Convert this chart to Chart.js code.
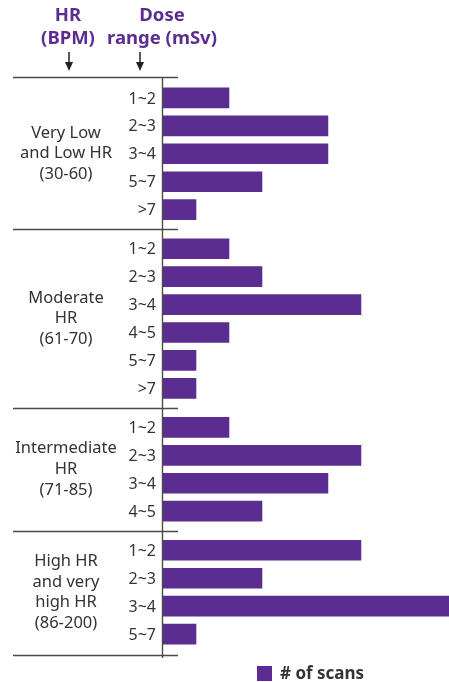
<!DOCTYPE html>
<html>
<head>
<meta charset="utf-8">
<script src="https://cdn.jsdelivr.net/npm/chart.js@4.4.1/dist/chart.umd.min.js"></script>
<style>
  html, body { margin: 0; padding: 0; background: #fff; }
  #wrap { width: 449px; height: 682px; position: relative; }
</style>
</head>
<body>
<div id="wrap"><canvas id="c"></canvas></div>
<script>
// data
const groupLabels = [
    ['Very Low', 'and Low HR', '(30-60)'],
    ['Moderate', 'HR', '(61-70)'],
    ['Intermediate', 'HR', '(71-85)'],
    ['High HR', 'and very', 'high HR', '(86-200)']
];
const doseRanges = [
    ['1~2', '2~3', '3~4', '5~7', '>7'],
    ['1~2', '2~3', '3~4', '4~5', '5~7', '>7'],
    ['1~2', '2~3', '3~4', '4~5'],
    ['1~2', '2~3', '3~4', '5~7']
];
const scans = [
    [2, 5, 5, 3, 1],
    [2, 3, 6, 2, 1, 1],
    [2, 6, 5, 3],
    [6, 3, 9, 1]
];
const headerHR = ['HR', '(BPM)'];
const headerDose = ['Dose', 'range (mSv)'];
const legendText = '# of scans';

const purple = '#5C2D91';
const textColor = '#333333';
const lineColor = '#4a4a4a';
const font = '"Noto Sans", sans-serif';
const groupGap = 0.4;

// row positions on a linear y scale (one unit per row, a bit more between groups)
let points = [];
let rowPos = [];
let pos = 0;
scans.forEach((g, gi) => {
    let rp = [];
    g.forEach((v, i) => {
        points.push({ x: v, y: pos });
        rp.push(pos);
        pos += 1;
    });
    rowPos.push(rp);
    pos += groupGap;
});
const lastPos = pos - 1 - groupGap;

const overlay = {
    id: 'overlay',
    afterDraw(chart) {
        const c = chart.ctx;
        const ys = chart.scales.y;
        const xs = chart.scales.x;
        const axisX = xs.getPixelForValue(0);
        c.save();

        // header
        c.fillStyle = purple;
        c.font = 'bold 18.5px ' + font;
        c.textAlign = 'center';
        c.textBaseline = 'alphabetic';
        headerHR.forEach((t, i) => c.fillText(t, 68, 21 + i * 23));
        headerDose.forEach((t, i) => c.fillText(t, 162, 21 + i * 23));

        // arrows
        c.strokeStyle = '#222';
        c.fillStyle = '#222';
        c.lineWidth = 1.5;
        [69, 140].forEach(ax => {
            c.beginPath();
            c.moveTo(ax, 52);
            c.lineTo(ax, 64);
            c.stroke();
            c.beginPath();
            c.moveTo(ax - 4, 62);
            c.lineTo(ax + 4, 62);
            c.lineTo(ax, 71);
            c.closePath();
            c.fill();
        });

        // horizontal separators
        let seps = [-0.75];
        for (let g = 0; g < rowPos.length - 1; g++) {
            let a = rowPos[g][rowPos[g].length - 1];
            let b = rowPos[g + 1][0];
            seps.push((a + b) / 2);
        }
        seps.push(lastPos + 0.75);
        c.strokeStyle = lineColor;
        c.lineWidth = 1.4;
        seps.forEach(s => {
            let y = Math.round(ys.getPixelForValue(s)) + 0.5;
            c.beginPath();
            c.moveTo(13, y);
            c.lineTo(178, y);
            c.stroke();
        });

        // vertical axis
        c.beginPath();
        c.moveTo(axisX - 0.5, ys.getPixelForValue(-0.75));
        c.lineTo(axisX - 0.5, ys.getPixelForValue(lastPos + 0.75) + 3);
        c.stroke();

        // dose labels
        c.fillStyle = textColor;
        c.font = '16px ' + font;
        c.textAlign = 'right';
        c.textBaseline = 'middle';
        doseRanges.forEach((g, gi) => {
            g.forEach((t, i) => c.fillText(t, 156, ys.getPixelForValue(rowPos[gi][i]) + 1));
        });

        // group labels
        c.textAlign = 'center';
        c.font = '16.5px ' + font;
        groupLabels.forEach((lines, gi) => {
            let rp = rowPos[gi];
            let mid = ys.getPixelForValue((rp[0] + rp[rp.length - 1]) / 2);
            let lh = 20.7;
            let top = mid - (lines.length - 1) * lh / 2;
            lines.forEach((t, i) => c.fillText(t, 66, top + i * lh));
        });

        // legend
        c.fillStyle = purple;
        c.fillRect(257, 666, 15, 15);
        c.fillStyle = textColor;
        c.font = 'bold 17px ' + font;
        c.textAlign = 'left';
        c.fillText(legendText, 280, 674);

        c.restore();
    }
};

const ctx = document.getElementById('c').getContext('2d');
const chart = new Chart(ctx, {
    type: 'bar',
    data: {
        datasets: [{
            label: legendText,
            data: points,
            backgroundColor: purple,
            barThickness: 20,
            borderWidth: 0
        }]
    },
    options: {
        responsive: true,
        maintainAspectRatio: false,
        animation: false,
        indexAxis: 'y',
        layout: {
            padding: { top: 77, bottom: 27, left: 163, right: 0 }
        },
        plugins: {
            legend: { display: false },
            tooltip: { enabled: false }
        },
        scales: {
            x: {
                type: 'linear',
                display: false,
                min: 0,
                max: 8.67
            },
            y: {
                type: 'linear',
                display: false,
                reverse: true,
                offset: false,
                min: -0.75,
                max: lastPos + 0.75
            }
        }
    },
    plugins: [overlay]
});
</script>
</body>
</html>
